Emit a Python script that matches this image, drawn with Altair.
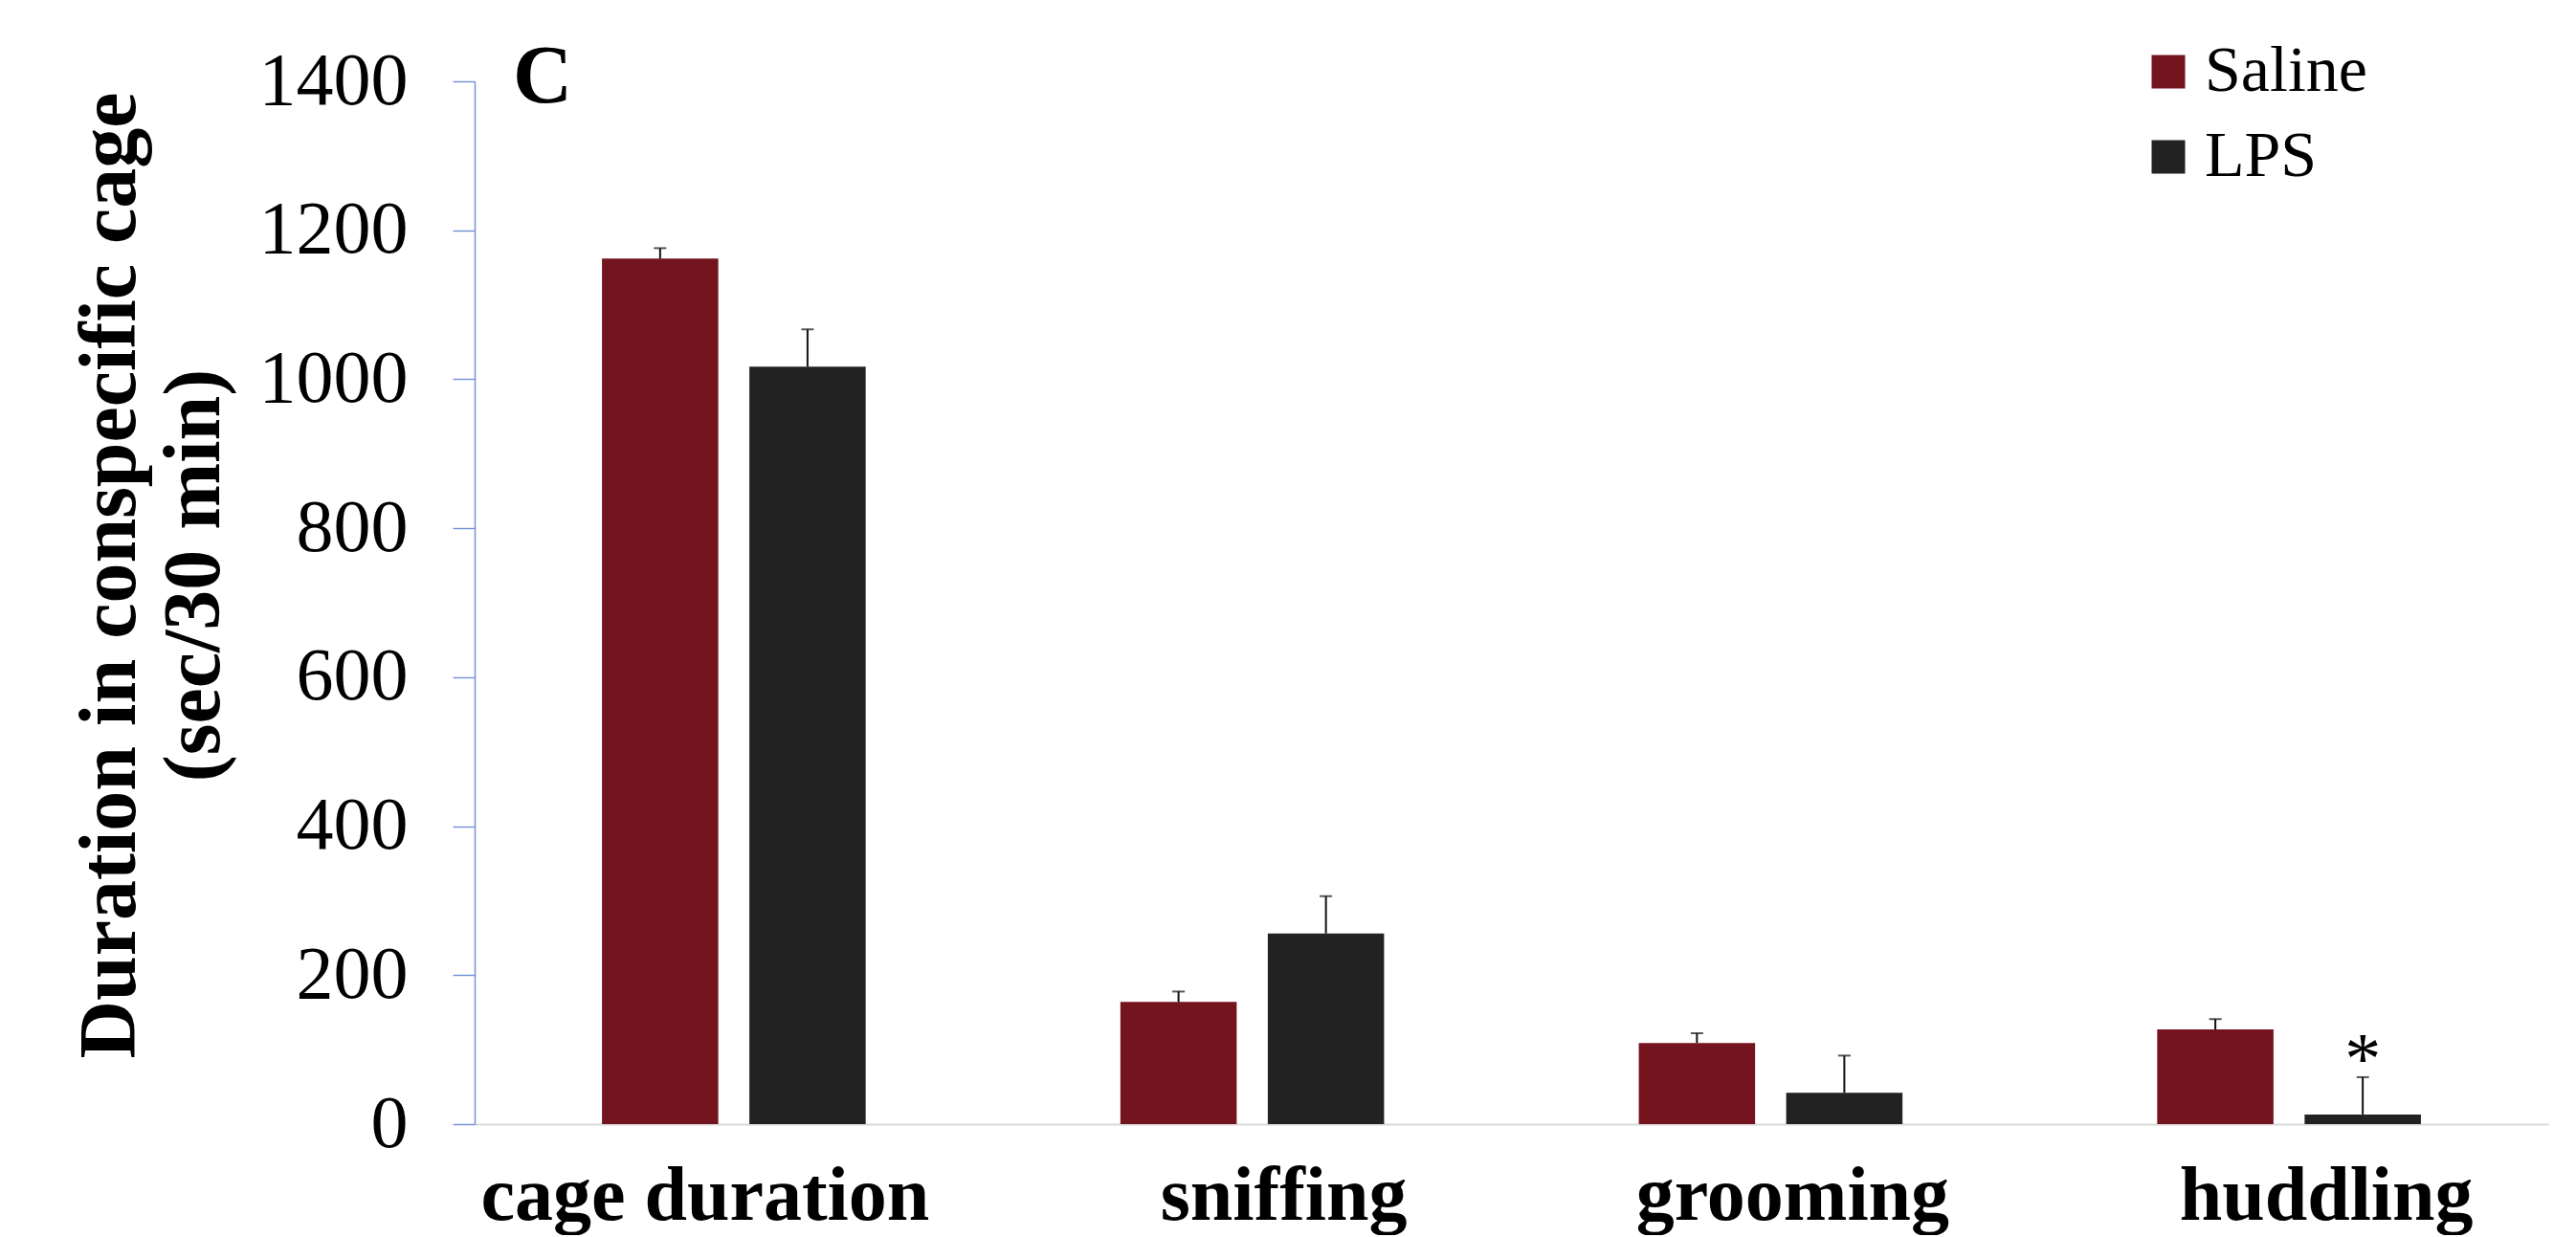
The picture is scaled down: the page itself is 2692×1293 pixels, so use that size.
import altair as alt
import pandas as pd

categories = ["cage duration", "sniffing", "grooming", "huddling"]
groups = ["Saline", "LPS"]
saline_mean = [1162, 164, 109, 127]
saline_err = [14, 14, 13, 14]
lps_mean = [1017, 256, 42, 13]
lps_err = [50, 50, 50, 50]
lps_sig = ["", "", "", "*"]
y_ticks = [0, 200, 400, 600, 800, 1000, 1200, 1400]
colors = ["#73141F", "#222222"]
label_shift = [-30, 33, 23, 39]

rows = []
for i, c in enumerate(categories):
    rows.append(dict(category=c, group="Saline", mean=saline_mean[i],
                     top=saline_mean[i] + saline_err[i], sig=""))
    rows.append(dict(category=c, group="LPS", mean=lps_mean[i],
                     top=lps_mean[i] + lps_err[i], sig=lps_sig[i]))
df = pd.DataFrame(rows)

FONT = "Liberation Serif"
NB = "\u00a0"

label_offset = {
    "condition": [{"test": f"datum.value === '{c}'", "value": s}
                  for c, s in zip(categories[:-1], label_shift[:-1])],
    "value": label_shift[-1],
}

x = alt.X(
    "category:N", sort=categories,
    scale=alt.Scale(paddingInner=0, paddingOuter=0),
    axis=alt.Axis(title=None, labelAngle=0, labelFontSize=80, labelFontWeight="bold",
                  labelFont=FONT, labelColor="black", ticks=False, tickSize=0,
                  labelPadding=36, labelLimit=0, labelOffset=label_offset,
                  domainColor="#D9D9D9", domainWidth=2),
)
xoff = alt.XOffset("group:N", sort=groups,
                   scale=alt.Scale(paddingInner=0.211, paddingOuter=0.864))
yscale = alt.Scale(domain=[0, 1400], nice=False)

bars = alt.Chart(df).mark_bar().encode(
    x=x,
    xOffset=xoff,
    y=alt.Y("mean:Q", scale=yscale,
            axis=alt.Axis(values=y_ticks, grid=False, format="d",
                          title=["Duration in conspecific cage", "(sec/30 min)" + NB * 6],
                          titleFont=FONT, titleFontSize=84, titleFontWeight="bold",
                          titleColor="black", titleAngle=-90, titleBaseline="alphabetic",
                          titleAlign="center", titleX=-356, titleY=516, titleLineHeight=88,
                          labelFont=FONT, labelFontSize=78, labelColor="black",
                          labelPadding=47, tickSize=23, tickColor="#6F8FD6", tickWidth=1.4,
                          domainColor="#6F8FD6", domainWidth=1.4)),
    color=alt.Color("group:N", sort=groups,
                    scale=alt.Scale(domain=groups, range=colors),
                    legend=alt.Legend(title=None, orient="none", legendX=1736, legendY=-44,
                                      symbolType="square", symbolSize=1225,
                                      symbolStrokeWidth=0, labelFont=FONT,
                                      labelFontSize=68, labelColor="black", labelLimit=0,
                                      rowPadding=21, labelOffset=4, padding=0)),
)

err = alt.Chart(df).mark_rule(color="#111111", strokeWidth=2).encode(
    x=x, xOffset=xoff, y=alt.Y("mean:Q", scale=yscale), y2="top:Q"
)
caps = alt.Chart(df).mark_tick(color="#111111", size=13, thickness=2).encode(
    x=x, xOffset=xoff, y=alt.Y("top:Q", scale=yscale)
)
stars = alt.Chart(df).transform_filter("datum.sig != ''").mark_text(
    font=FONT, fontSize=76, color="black", baseline="alphabetic", dy=6
).encode(x=x, xOffset=xoff, y=alt.Y("top:Q", scale=yscale), text="sig:N")

chart = alt.layer(bars, err, caps, stars).properties(
    width=2167, height=1090,
    title=alt.TitleParams("C", anchor="start", frame="group", font=FONT, fontSize=86,
                          fontWeight="bold", color="black", dx=40, dy=88),
    autosize=alt.AutoSizeParams(type="none"),
    padding={"left": 488, "top": 77, "right": 21, "bottom": 116},
    background="white",
).configure_view(stroke=None)

chart.save("out.html", embed_options={"renderer": "svg", "actions": False})
